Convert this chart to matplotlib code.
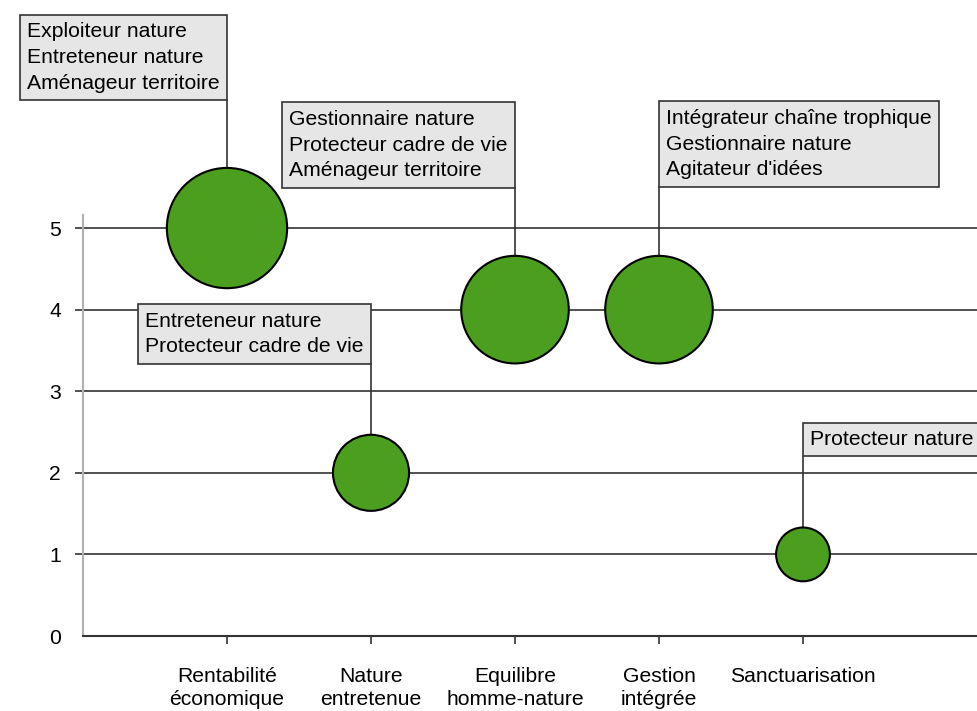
import matplotlib
matplotlib.use("Agg")
import matplotlib.pyplot as plt

plt.rcParams["font.family"] = ["Liberation Sans", "DejaVu Sans"]

# data
categories = ["Rentabilité\néconomique", "Nature\nentretenue",
              "Equilibre\nhomme-nature", "Gestion\nintégrée", "Sanctuarisation"]
scores = [5, 2, 4, 4, 1]
roles = [
    "Exploiteur nature\nEntreteneur nature\nAménageur territoire",
    "Entreteneur nature\nProtecteur cadre de vie",
    "Gestionnaire nature\nProtecteur cadre de vie\nAménageur territoire",
    "Intégrateur chaîne trophique\nGestionnaire nature\nAgitateur d'idées",
    "Protecteur nature",
]

# layout of the callout boxes: (side of the box the stem attaches to, rise in px)
callouts = [("right", 128), ("right", 109), ("right", 122), ("left", 123), ("left", 98)]

GREEN = "#4c9e1f"
BOXFILL = "#e6e6e6"
DARK = "#333333"
FS = 15.2
PAD = 0.35

fig = plt.figure(figsize=(9.78, 7.11), dpi=100)
ax = fig.add_axes([83 / 978, 75 / 711, 895 / 978, 421 / 711])

x = list(range(1, len(categories) + 1))
ax.scatter(x, scores, s=[1500 * v for v in scores], color=GREEN,
           edgecolor="black", linewidth=1.5, zorder=4, clip_on=False)

px = 0.72  # points per pixel at 100 dpi
for xi, v, txt, (side, rise) in zip(x, scores, roles, callouts):
    # stem from bubble centre up to the box
    ax.annotate("", xy=(xi, v), xytext=(0, rise * px), textcoords="offset points",
                arrowprops=dict(arrowstyle="-", color=DARK, lw=1.2,
                                shrinkA=0, shrinkB=0),
                annotation_clip=False, zorder=2)
    dx = -PAD * FS if side == "right" else PAD * FS
    ax.annotate(txt, xy=(xi, v), xytext=(dx, rise * px + PAD * FS),
                textcoords="offset points", ha=side, va="bottom",
                multialignment="left", fontsize=FS, linespacing=1.45,
                annotation_clip=False, zorder=5,
                bbox=dict(boxstyle=f"square,pad={PAD}", facecolor=BOXFILL,
                          edgecolor=DARK, linewidth=1.2))

ax.set_xlim(0, 895 / 144)
ax.set_ylim(0, 5.16)
ax.set_yticks(range(0, 6))
ax.set_xticks(x)
ax.set_xticklabels(categories, fontsize=FS, linespacing=1.3)
ax.tick_params(axis="y", length=6, width=1.2, color=DARK, pad=10, labelsize=FS)
ax.tick_params(axis="x", length=6, width=1.2, color=DARK, pad=16)
# no tick mark on the zero line
ax.yaxis.get_major_ticks()[0].tick1line.set_visible(False)

ax.grid(True, axis="y", color=DARK, linewidth=1.2)
ax.set_axisbelow(True)
for s in ["top", "right"]:
    ax.spines[s].set_visible(False)
ax.spines["left"].set_color("#b0b0b0")
ax.spines["left"].set_linewidth(1.5)
ax.spines["bottom"].set_color(DARK)
ax.spines["bottom"].set_linewidth(1.5)

fig.savefig("out.png", dpi=100)
